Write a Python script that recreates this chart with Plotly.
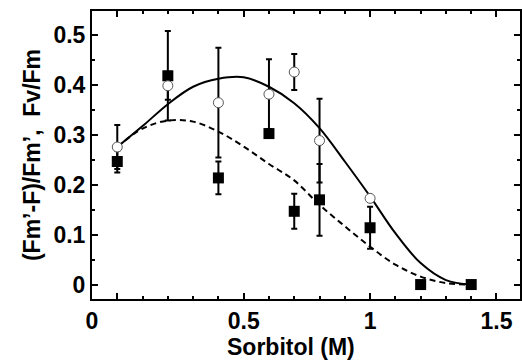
import plotly.graph_objects as go

# Data
sorbitol = [0.0, 0.2, 0.4, 0.6, 0.7, 0.8, 1.0, 1.2, 1.4]
squares = [0.247, 0.419, 0.214, 0.303, 0.147, 0.170, 0.114, 0.0, 0.0]
squares_err = [0.022, 0.090, 0.033, 0.0, 0.035, 0.072, 0.042, 0.0, 0.0]

circ_x = [0.0, 0.2, 0.4, 0.6, 0.7, 0.8, 1.0]
circles = [0.276, 0.399, 0.365, 0.382, 0.4265, 0.289, 0.173]
circles_err = [0.044, 0.028, 0.110, 0.070, 0.036, 0.084, 0.0]

curve_x = [0, 0.1, 0.2, 0.3, 0.4, 0.5, 0.6, 0.7, 0.8, 0.9, 1.0, 1.1, 1.2, 1.3, 1.4]
curve_solid = [0.276, 0.318, 0.362, 0.397, 0.413, 0.416, 0.397, 0.364, 0.314, 0.247, 0.177, 0.103, 0.043, 0.009, 0.0]
curve_dashed = [0.276, 0.313, 0.329, 0.327, 0.307, 0.277, 0.242, 0.209, 0.160, 0.117, 0.076, 0.040, 0.016, 0.003, 0.0]

x_tickvals = [-0.1, 0, 0.5, 1, 1.5]
x_ticktext = ["0", "", "0.5", "1", "1.5"]
y_tickvals = [0, 0.1, 0.2, 0.3, 0.4, 0.5]
y_ticktext = ["0", "0.1", "0.2", "0.3", "0.4", "0.5"]

x_title = "Sorbitol (M)"
y_title = "(Fm\u2019-F)/Fm\u2019,  Fv/Fm"

FONT = "Liberation Sans, Arial, sans-serif"
FS = 23

fig = go.Figure()
fig.add_trace(go.Scatter(x=curve_x, y=curve_solid, mode="lines",
                         line=dict(color="black", width=2, shape="spline"),
                         showlegend=False, hoverinfo="skip"))
fig.add_trace(go.Scatter(x=curve_x, y=curve_dashed, mode="lines",
                         line=dict(color="black", width=2, shape="spline", dash="6px,4px"),
                         showlegend=False, hoverinfo="skip"))
fig.add_trace(go.Scatter(x=sorbitol, y=squares, mode="markers",
                         marker=dict(symbol="square", size=11, color="black",
                                     line=dict(width=0)),
                         error_y=dict(type="data", array=squares_err, visible=True,
                                      color="black", thickness=2, width=3),
                         showlegend=False))
fig.add_trace(go.Scatter(x=circ_x, y=circles, mode="markers",
                         marker=dict(symbol="circle", size=10, color="white",
                                     line=dict(width=1, color="#555555")),
                         error_y=dict(type="data", array=circles_err, visible=True,
                                      color="black", thickness=2, width=3),
                         showlegend=False))

axis_common = dict(showline=True, linecolor="black", linewidth=2, mirror="ticks",
                   ticks="inside", tickcolor="black", tickwidth=2, ticklen=6,
                   showgrid=False, zeroline=False,
                   tickfont=dict(family=FONT, size=FS, color="black", weight="bold"))

fig.update_xaxes(range=[-0.1, 1.593], tickmode="array", tickvals=x_tickvals,
                 ticktext=x_ticktext,
                 minor=dict(tickmode="linear", tick0=0, dtick=0.1, ticks="inside",
                            ticklen=3, tickwidth=2, tickcolor="black"),
                 **axis_common)
fig.update_yaxes(range=[-0.029, 0.549], tickmode="array", tickvals=y_tickvals,
                 ticktext=y_ticktext,
                 minor=dict(tickmode="linear", tick0=0, dtick=0.05, ticks="inside",
                            ticklen=3, tickwidth=2, tickcolor="black"),
                 title=dict(text=y_title, standoff=6,
                            font=dict(family=FONT, size=FS, color="black", weight="bold")),
                 **axis_common)

fig.add_annotation(text=x_title, xref="paper", yref="paper",
                   x=(292 - 92) / 430, y=-(347 - 349) / 288 - 0.0,
                   yanchor="middle", xanchor="center", showarrow=False,
                   font=dict(family=FONT, size=FS, color="black", weight="bold"))

fig.update_layout(width=522, height=360,
                  margin=dict(l=92, r=0, t=11, b=61),
                  plot_bgcolor="white", paper_bgcolor="white")

# place x title centre at pixel y=347 (plot area spans y 11..299)
fig.layout.annotations[0].y = (299 - 347) / 288

fig.write_html("out.html")
